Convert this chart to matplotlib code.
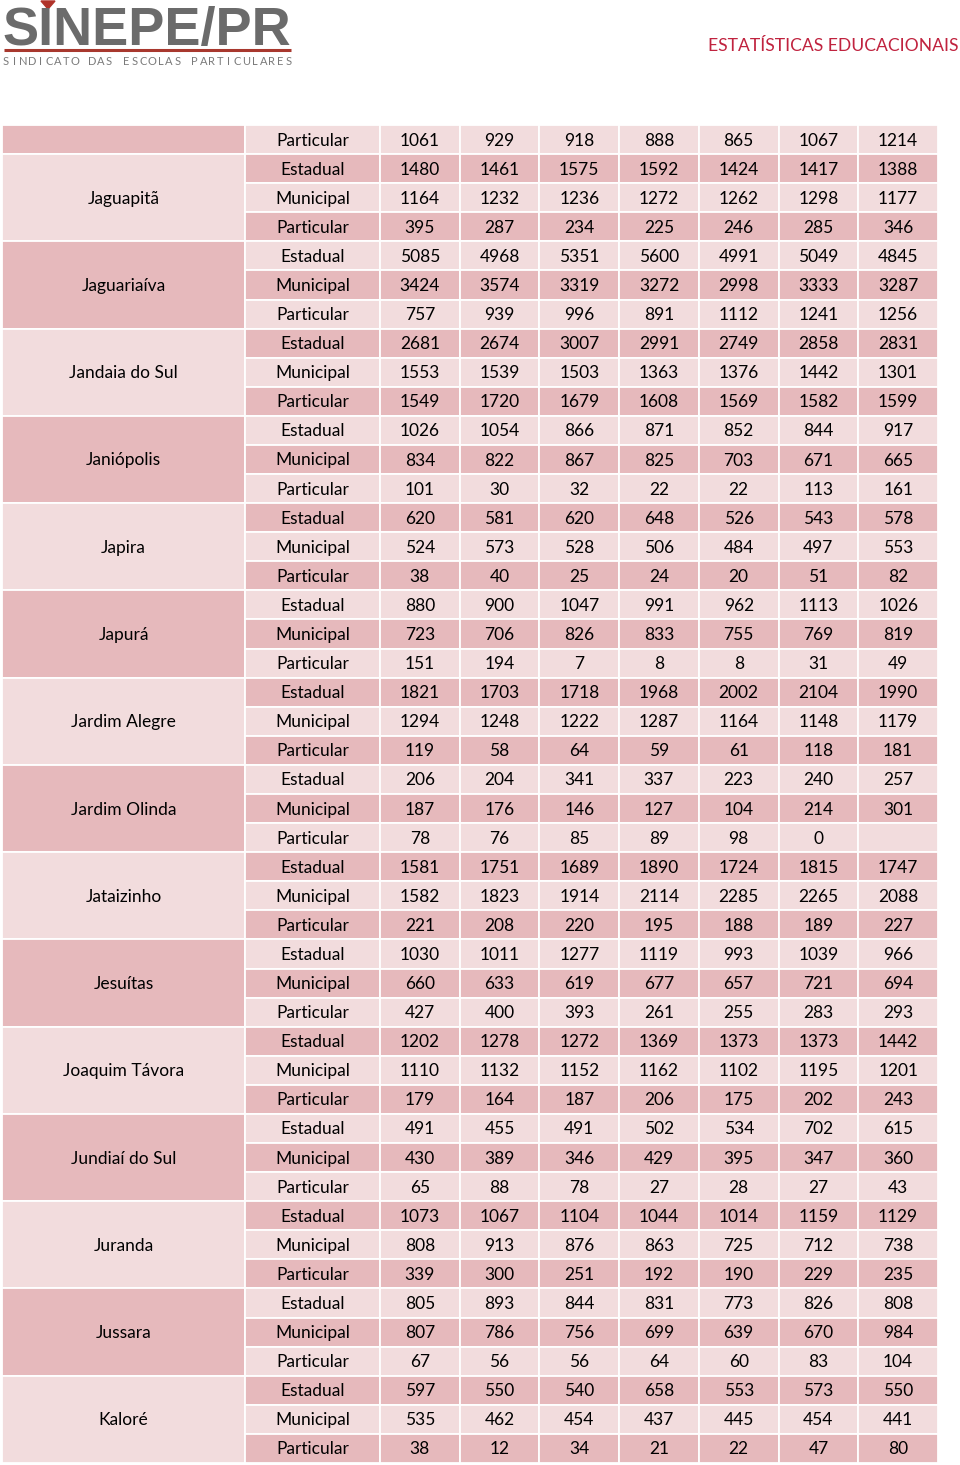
import matplotlib
matplotlib.use("Agg")
import matplotlib.pyplot as plt
from matplotlib.patches import Rectangle, Polygon

# ---- data ----
years_cols = 7
first_row = [1061, 929, 918, 888, 865, 1067, 1214]  # Particular row of the previous city

cities = ["Jaguapitã", "Jaguariaíva", "Jandaia do Sul", "Janiópolis", "Japira", "Japurá",
          "Jardim Alegre", "Jardim Olinda", "Jataizinho", "Jesuítas", "Joaquim Távora",
          "Jundiaí do Sul", "Juranda", "Jussara", "Kaloré"]

estadual = [
    [1480, 1461, 1575, 1592, 1424, 1417, 1388],
    [5085, 4968, 5351, 5600, 4991, 5049, 4845],
    [2681, 2674, 3007, 2991, 2749, 2858, 2831],
    [1026, 1054, 866, 871, 852, 844, 917],
    [620, 581, 620, 648, 526, 543, 578],
    [880, 900, 1047, 991, 962, 1113, 1026],
    [1821, 1703, 1718, 1968, 2002, 2104, 1990],
    [206, 204, 341, 337, 223, 240, 257],
    [1581, 1751, 1689, 1890, 1724, 1815, 1747],
    [1030, 1011, 1277, 1119, 993, 1039, 966],
    [1202, 1278, 1272, 1369, 1373, 1373, 1442],
    [491, 455, 491, 502, 534, 702, 615],
    [1073, 1067, 1104, 1044, 1014, 1159, 1129],
    [805, 893, 844, 831, 773, 826, 808],
    [597, 550, 540, 658, 553, 573, 550],
]

municipal = [
    [1164, 1232, 1236, 1272, 1262, 1298, 1177],
    [3424, 3574, 3319, 3272, 2998, 3333, 3287],
    [1553, 1539, 1503, 1363, 1376, 1442, 1301],
    [834, 822, 867, 825, 703, 671, 665],
    [524, 573, 528, 506, 484, 497, 553],
    [723, 706, 826, 833, 755, 769, 819],
    [1294, 1248, 1222, 1287, 1164, 1148, 1179],
    [187, 176, 146, 127, 104, 214, 301],
    [1582, 1823, 1914, 2114, 2285, 2265, 2088],
    [660, 633, 619, 677, 657, 721, 694],
    [1110, 1132, 1152, 1162, 1102, 1195, 1201],
    [430, 389, 346, 429, 395, 347, 360],
    [808, 913, 876, 863, 725, 712, 738],
    [807, 786, 756, 699, 639, 670, 984],
    [535, 462, 454, 437, 445, 454, 441],
]

particular = [
    [395, 287, 234, 225, 246, 285, 346],
    [757, 939, 996, 891, 1112, 1241, 1256],
    [1549, 1720, 1679, 1608, 1569, 1582, 1599],
    [101, 30, 32, 22, 22, 113, 161],
    [38, 40, 25, 24, 20, 51, 82],
    [151, 194, 7, 8, 8, 31, 49],
    [119, 58, 64, 59, 61, 118, 181],
    [78, 76, 85, 89, 98, 0, None],
    [221, 208, 220, 195, 188, 189, 227],
    [427, 400, 393, 261, 255, 283, 293],
    [179, 164, 187, 206, 175, 202, 243],
    [65, 88, 78, 27, 28, 27, 43],
    [339, 300, 251, 192, 190, 229, 235],
    [67, 56, 56, 64, 60, 83, 104],
    [38, 12, 34, 21, 22, 47, 80],
]

types = ["Estadual", "Municipal", "Particular"]

# ---- style ----
DARK = "#e6b9bc"
LIGHT = "#f2dcdd"
TXT = "#000000"
FONT = ["Lato", "DejaVu Sans"]

fig = plt.figure(figsize=(9.6, 14.65), dpi=100)
ax = fig.add_axes([0, 0, 1, 1])
ax.set_xlim(0, 960)
ax.set_ylim(1465, 0)
ax.axis("off")

# ---- header ----
ax.text(147, 31, "SINEPE/PR", fontsize=39, fontweight="bold", color="#6b6b6b",
        family=["Liberation Sans", "DejaVu Sans"], ha="center", va="center")
ax.add_patch(Polygon([[41, 1], [55, 1], [48, 9]], closed=True, color="#b0332a"))
ax.plot([4, 291], [50, 50], color="#a8382e", lw=2.2, solid_capstyle="butt")
small = "SINDICATO DAS ESCOLAS PARTICULARES"
step = 283 / (len(small) - 1)
for i, ch in enumerate(small):
    ax.text(6 + i * step, 61.5, ch, fontsize=8, color="#7a7a7a",
            family=FONT, ha="center", va="center")

ax.text(958, 46, "ESTATÍSTICAS EDUCACIONAIS", fontsize=12.6, color="#c0233f",
        family=FONT, ha="right", va="center")

# ---- table ----
top = 125
row_h = (1463 - 125) / 46
num_w = (938 - 380) / years_cols
col_edges = [2, 245, 380] + [380 + num_w * (k + 1) for k in range(years_cols)]

rows = [("", "Particular", first_row)]
for c in range(len(cities)):
    rows.append((cities[c], "Estadual", estadual[c]))
    rows.append((cities[c], "Municipal", municipal[c]))
    rows.append((cities[c], "Particular", particular[c]))


def cell(x0, x1, y0, y1, color):
    ax.add_patch(Rectangle((x0, y0), x1 - x0, y1 - y0, facecolor=color,
                           edgecolor="white", lw=1.3))


# merged city cells
cell(col_edges[0], col_edges[1], top, top + row_h, DARK)
for c, name in enumerate(cities):
    y0 = top + row_h * (1 + 3 * c)
    y1 = y0 + 3 * row_h
    cell(col_edges[0], col_edges[1], y0, y1, LIGHT if c % 2 == 0 else DARK)
    ax.text((col_edges[0] + col_edges[1]) / 2, (y0 + y1) / 2 + 1, name, fontsize=12.5,
            color=TXT, family=FONT, ha="center", va="center")

for r, (name, kind, vals) in enumerate(rows):
    y0 = top + r * row_h
    y1 = y0 + row_h
    yc = (y0 + y1) / 2 + 1
    color = LIGHT if r % 2 == 0 else DARK
    cell(col_edges[1], col_edges[2], y0, y1, color)
    ax.text((col_edges[1] + col_edges[2]) / 2, yc, kind, fontsize=12.5, color=TXT,
            family=FONT, ha="center", va="center")
    for k, v in enumerate(vals):
        x0, x1 = col_edges[2 + k], col_edges[3 + k]
        cell(x0, x1, y0, y1, color)
        if v is not None:
            ax.text((x0 + x1) / 2, yc, str(v), fontsize=12.5, color=TXT,
                    family=FONT, ha="center", va="center")

fig.savefig("out.png", dpi=100)
